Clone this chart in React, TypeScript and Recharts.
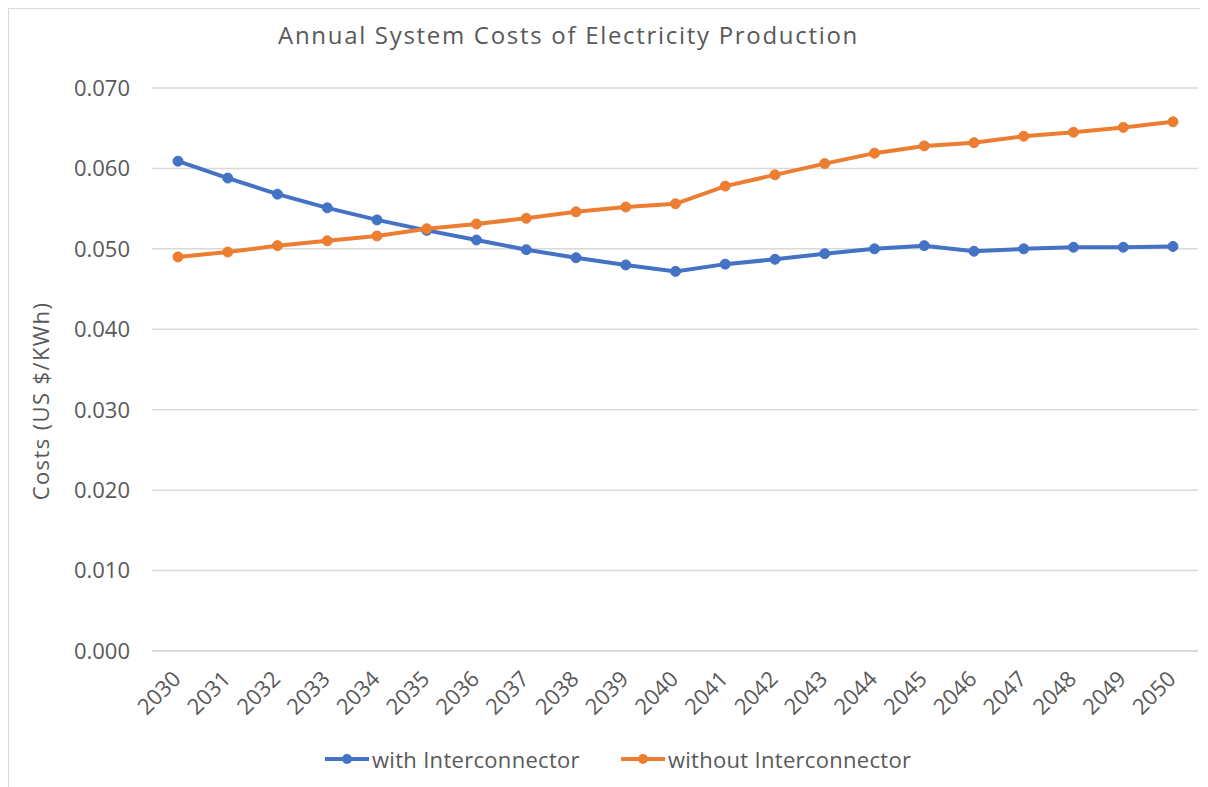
import { LineChart, Line, XAxis, YAxis, CartesianGrid } from "recharts"

// Annual system costs, US $/kWh
const years = [
  "2030", "2031", "2032", "2033", "2034", "2035", "2036", "2037", "2038", "2039", "2040",
  "2041", "2042", "2043", "2044", "2045", "2046", "2047", "2048", "2049", "2050",
]
const withInterconnector = [
  0.0609, 0.0588, 0.0568, 0.0551, 0.0536, 0.0523, 0.0511, 0.0499, 0.0489, 0.048, 0.0472,
  0.0481, 0.0487, 0.0494, 0.05, 0.0504, 0.0497, 0.05, 0.0502, 0.0502, 0.0503,
]
const withoutInterconnector = [
  0.049, 0.0496, 0.0504, 0.051, 0.0516, 0.0525, 0.0531, 0.0538, 0.0546, 0.0552, 0.0556,
  0.0578, 0.0592, 0.0606, 0.0619, 0.0628, 0.0632, 0.064, 0.0645, 0.0651, 0.0658,
]
const yTicks = [0, 0.01, 0.02, 0.03, 0.04, 0.05, 0.06, 0.07]

const BLUE = "#4472c4"
const ORANGE = "#ed7d31"
const TEXT = "#595959"
const FONT = "'Open Sans', sans-serif"

const data = years.map((year, i) => ({
  year,
  with: withInterconnector[i],
  without: withoutInterconnector[i],
}))

const YearTick = ({ x, y, payload }: any) => (
  <text
    x={x}
    y={y}
    dx={2}
    dy={4}
    textAnchor="end"
    transform={`rotate(-45, ${x}, ${y})`}
    fill={TEXT}
    fontSize={22}
    fontFamily={FONT}
  >
    {payload.value}
  </text>
)

const LegendItem = ({ color, label }: { color: string; label: string }) => (
  <div style={{ display: "flex", alignItems: "center" }}>
    <svg width={46} height={12}>
      <line x1={1} y1={6} x2={45} y2={6} stroke={color} strokeWidth={4} />
      <circle cx={23} cy={6} r={5} fill={color} />
    </svg>
    <span style={{ marginLeft: 2 }}>{label}</span>
  </div>
)

export default function App() {
  return (
    <div
      style={{
        position: "relative",
        width: 1199,
        height: 778,
        borderTop: "1px solid #d9d9d9",
        borderLeft: "1px solid #d9d9d9",
        fontFamily: FONT,
        color: TEXT,
        background: "#fff",
      }}
    >
      <div
        style={{
          position: "absolute",
          left: 269,
          top: 9,
          fontSize: 24,
          letterSpacing: 1.7,
          whiteSpace: "nowrap",
        }}
      >
        Annual System Costs of Electricity Production
      </div>
      <div
        style={{
          position: "absolute",
          left: 31,
          top: 392,
          fontSize: 22,
          letterSpacing: 1.4,
          whiteSpace: "nowrap",
          transform: "translate(-50%, -50%) rotate(-90deg)",
        }}
      >
        Costs (US $/KWh)
      </div>
      <LineChart
        width={1199}
        height={778}
        data={data}
        margin={{ top: 79, right: 10, bottom: 66, left: 33 }}
      >
        <CartesianGrid vertical={false} stroke="#d9d9d9" strokeWidth={1.5} />
        <XAxis
          dataKey="year"
          interval={0}
          height={70}
          padding={{ left: 26, right: 25 }}
          axisLine={{ stroke: "#d9d9d9", strokeWidth: 1.5 }}
          tickLine={false}
          tickSize={0}
          tickMargin={28}
          tick={<YearTick />}
        />
        <YAxis
          width={110}
          domain={[0, 0.07]}
          ticks={yTicks}
          tickFormatter={(v: number) => v.toFixed(3)}
          axisLine={false}
          tickLine={false}
          tickSize={0}
          tickMargin={22}
          tick={{ fill: TEXT, fontSize: 22, fontFamily: FONT }}
        />
        <Line
          dataKey="with"
          name="with Interconnector"
          stroke={BLUE}
          strokeWidth={4}
          dot={{ r: 5, fill: BLUE, stroke: BLUE, strokeWidth: 1 }}
          isAnimationActive={false}
        />
        <Line
          dataKey="without"
          name="without Interconnector"
          stroke={ORANGE}
          strokeWidth={4}
          dot={{ r: 5, fill: ORANGE, stroke: ORANGE, strokeWidth: 1 }}
          isAnimationActive={false}
        />
      </LineChart>
      <div
        style={{
          position: "absolute",
          left: 315,
          top: 735,
          display: "flex",
          gap: 40,
          fontSize: 22,
          letterSpacing: 0.3,
          whiteSpace: "nowrap",
        }}
      >
        <LegendItem color={BLUE} label="with Interconnector" />
        <LegendItem color={ORANGE} label="without Interconnector" />
      </div>
    </div>
  )
}
